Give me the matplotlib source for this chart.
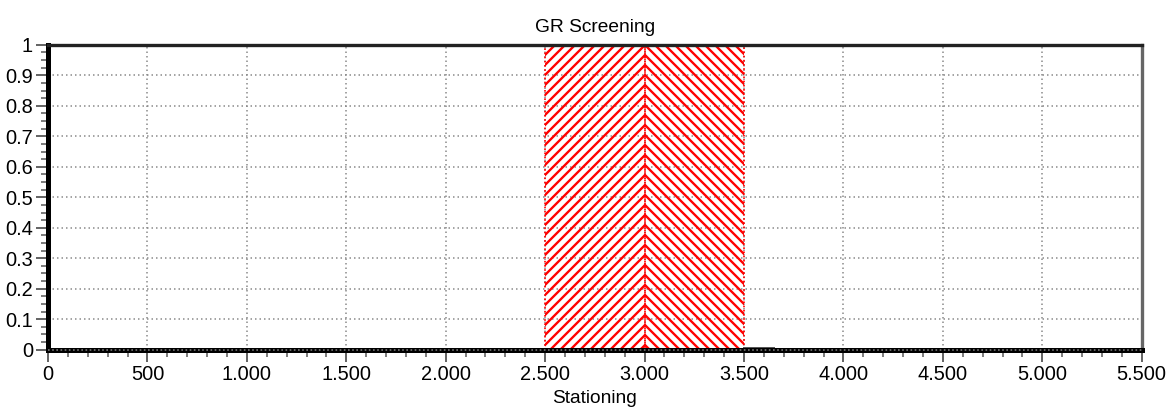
import matplotlib
matplotlib.use("Agg")
import matplotlib.pyplot as plt
import matplotlib.ticker as ticker

# Screening zones (stationing from/to, hatch pattern)
zone_start = [2500, 3000]
zone_end = [3000, 3500]
zone_hatch = ["////", "\\\\\\\\"]

# Baseline GR series along stationing
gr_station = [0, 5500]
gr_value = [0, 0]

# Small grey trace after the zones
trace_station = [3500, 3650]
trace_value = [0.004, 0.004]

plt.rcParams["font.family"] = ["Liberation Sans", "DejaVu Sans"]
plt.rcParams["hatch.linewidth"] = 1.4

DPI = 120
fig = plt.figure(figsize=(1171 / DPI, 408 / DPI), dpi=DPI)
ax = fig.add_axes([0.041, 0.143, 0.934, 0.747])

ax.grid(True, which="major", color="#888888", linestyle=(0, (1, 2)), linewidth=0.9)
ax.set_axisbelow(True)

for x0, x1, h in zip(zone_start, zone_end, zone_hatch):
    ax.axvspan(x0, x1, ymin=0, ymax=1, facecolor="none", edgecolor="red",
               hatch=h, linewidth=1.0, linestyle=(0, (1, 1.5)), zorder=2)

ax.plot(trace_station, trace_value, color="#555555", linewidth=1.2, zorder=3)
ax.plot(gr_station, gr_value, color="black", linewidth=3.0, zorder=4,
        clip_on=False)
ax.plot(gr_station, gr_value, color="#777777", linewidth=1.0, zorder=5,
        linestyle=(0, (1, 1.5)), clip_on=False)

ax.set_xlim(0, 5500)
ax.set_ylim(0, 1)
ax.xaxis.set_major_locator(ticker.MultipleLocator(500))
ax.xaxis.set_minor_locator(ticker.MultipleLocator(100))
ax.yaxis.set_major_locator(ticker.MultipleLocator(0.1))
ax.yaxis.set_minor_locator(ticker.MultipleLocator(0.025))
ax.xaxis.set_major_formatter(ticker.FuncFormatter(
    lambda x, _: f"{int(round(x)):,}".replace(",", ".")))
ax.yaxis.set_major_formatter(ticker.FuncFormatter(
    lambda y, _: f"{y:.1f}".rstrip("0").rstrip(".") if y else "0"))

ax.tick_params(which="major", direction="out", length=7, width=1.2,
               color="#666666", labelsize=12, pad=2)
ax.tick_params(which="minor", direction="out", length=4, width=1.0,
               color="#666666")

ax.spines["left"].set_linewidth(3.0)
ax.spines["left"].set_color("black")
ax.spines["bottom"].set_visible(False)
ax.spines["top"].set_linewidth(2.0)
ax.spines["top"].set_linestyle((0, (1.5, 1)))
ax.spines["top"].set_color("#222222")
ax.spines["right"].set_linewidth(2.0)
ax.spines["right"].set_linestyle((0, (2, 1)))
ax.spines["right"].set_color("#666666")

ax.set_title("GR Screening", fontsize=11.5, pad=8)
ax.set_xlabel("Stationing", fontsize=11.5, labelpad=4)

fig.savefig("out.png", dpi=DPI)
